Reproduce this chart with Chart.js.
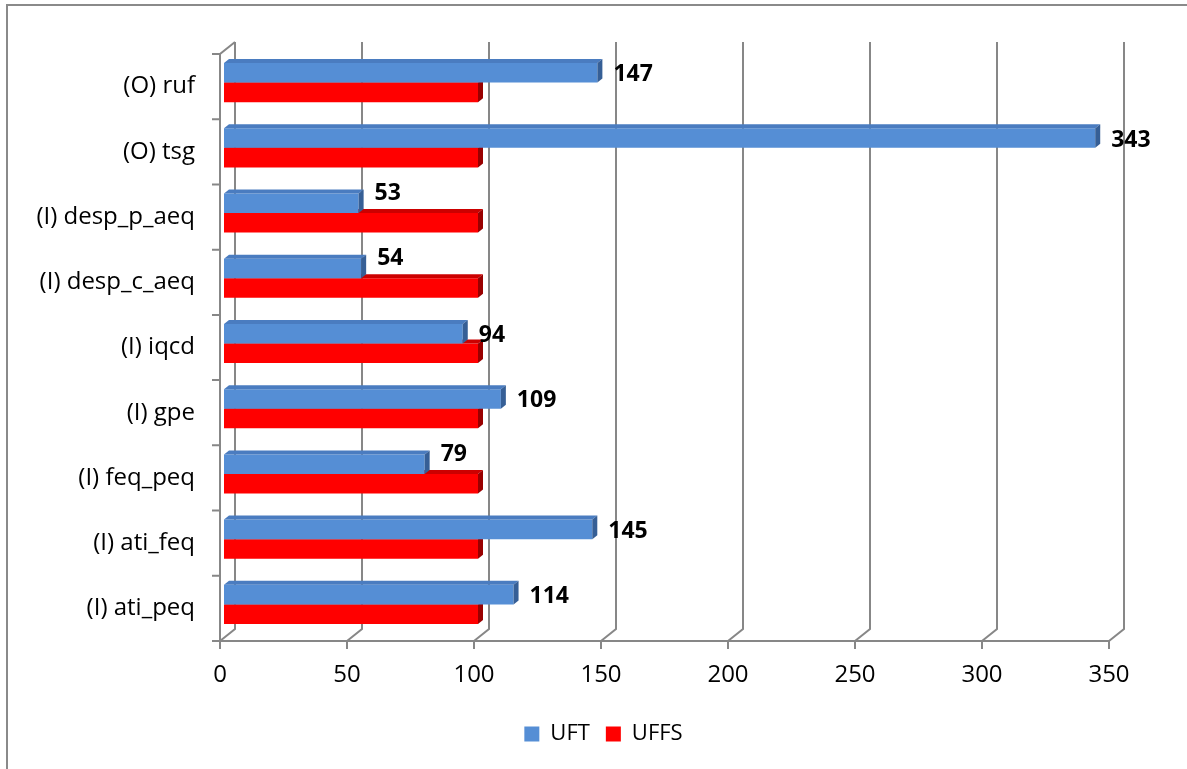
<!DOCTYPE html>
<html>
<head>
<meta charset="utf-8">
<script src="https://cdn.jsdelivr.net/npm/chart.js@4.4.1/dist/chart.umd.min.js"></script>
<style>
  html, body { margin: 0; padding: 0; background: #ffffff; }
  #wrap { width: 1187px; height: 769px; position: relative; }
</style>
</head>
<body>
<div id="wrap"><canvas id="chart" width="1187" height="769"></canvas></div>
<script>
// ---- data ----
const categories = ['(O) ruf', '(O) tsg', '(I) desp_p_aeq', '(I) desp_c_aeq', '(I) iqcd',
                    '(I) gpe', '(I) feq_peq', '(I) ati_feq', '(I) ati_peq'];
const uftValues  = [147, 343, 53, 54, 94, 109, 79, 145, 114];
const uffsValues = [100, 100, 100, 100, 100, 100, 100, 100, 100];
const seriesNames = ['UFT', 'UFFS'];
const xTickValues = [0, 50, 100, 150, 200, 250, 300, 350];

// ---- pseudo-3D geometry (offsets from the bar plane) ----
const FRONT = { dx: -4, dy: 4 };    // front edge of the floor / left wall
const BACK  = { dx: 11, dy: -8 };   // back wall
const BAR_DEPTH = { dx: 5, dy: -4 };
const GRID_COLOR = '#878787';

const faceColors = [
  { top: '#4a7cc0', side: '#365f96' },   // UFT
  { top: '#cc0000', side: '#990000' }    // UFFS
];

const textFont = { family: "'Open Sans', sans-serif", size: 24 };

// frame, walls, floor lines, bar depth faces and value labels
const framePlugin = {
  id: 'frame3d',
  beforeDraw(chart) {
    const ctx = chart.ctx;
    ctx.save();
    ctx.fillStyle = '#ffffff';
    ctx.fillRect(0, 0, chart.width, chart.height);
    ctx.strokeStyle = '#8a8a8a';
    ctx.lineWidth = 2;
    ctx.beginPath();
    ctx.moveTo(7, chart.height);
    ctx.lineTo(7, 5);
    ctx.lineTo(chart.width, 5);
    ctx.stroke();
    ctx.restore();
  },
  beforeDatasetsDraw(chart) {
    const ctx = chart.ctx, xs = chart.scales.x, ys = chart.scales.y, a = chart.chartArea;
    const baseY = a.bottom + FRONT.dy, topFront = a.top + FRONT.dy;
    const backTop = a.top + BACK.dy, backBottom = a.bottom + BACK.dy;
    const x0 = xs.getPixelForValue(xs.min);
    const x1 = xs.getPixelForValue(xs.max);
    ctx.save();
    ctx.strokeStyle = GRID_COLOR;
    ctx.lineWidth = 2;
    ctx.beginPath();
    xs.ticks.forEach(t => {
      const p = xs.getPixelForValue(t.value);
      const fx = p + FRONT.dx, bx = p + BACK.dx;
      ctx.moveTo(bx, backTop);
      ctx.lineTo(bx, backBottom);
      ctx.lineTo(fx, baseY);
      ctx.moveTo(fx, baseY);
      ctx.lineTo(fx, baseY + 8);
    });
    // floor front edge
    ctx.moveTo(x0 + FRONT.dx - 8, baseY);
    ctx.lineTo(x1 + FRONT.dx, baseY);
    // left wall
    ctx.moveTo(x0 + FRONT.dx, baseY);
    ctx.lineTo(x0 + FRONT.dx, topFront);
    ctx.lineTo(x0 + BACK.dx, backTop);
    // category tick marks
    for (let i = 0; i <= categories.length; i++) {
      const y = ys.getPixelForValue(i - 0.5) + FRONT.dy;
      ctx.moveTo(x0 + FRONT.dx - 8, y);
      ctx.lineTo(x0 + FRONT.dx, y);
    }
    ctx.stroke();
    ctx.restore();
  },
  afterDatasetDraw(chart, args) {
    const ctx = chart.ctx;
    const colors = faceColors[args.index];
    const dx = BAR_DEPTH.dx, dy = BAR_DEPTH.dy;
    ctx.save();
    args.meta.data.forEach(bar => {
      const p = bar.getProps(['x', 'y', 'base', 'height'], true);
      const top = p.y - p.height / 2, bot = p.y + p.height / 2;
      ctx.fillStyle = colors.top;
      ctx.beginPath();
      ctx.moveTo(p.base, top);
      ctx.lineTo(p.x, top);
      ctx.lineTo(p.x + dx, top + dy);
      ctx.lineTo(p.base + dx, top + dy);
      ctx.closePath();
      ctx.fill();
      ctx.fillStyle = colors.side;
      ctx.beginPath();
      ctx.moveTo(p.x, top);
      ctx.lineTo(p.x + dx, top + dy);
      ctx.lineTo(p.x + dx, bot + dy);
      ctx.lineTo(p.x, bot);
      ctx.closePath();
      ctx.fill();
    });
    ctx.restore();
  },
  afterDatasetsDraw(chart) {
    const ctx = chart.ctx;
    const blue = chart.getDatasetMeta(0).data, red = chart.getDatasetMeta(1).data;
    ctx.save();
    ctx.font = "bold 23px 'Open Sans', sans-serif";
    ctx.fillStyle = '#000000';
    ctx.textAlign = 'left';
    ctx.textBaseline = 'middle';
    blue.forEach((bar, i) => {
      const txt = String(uftValues[i]);
      const w = ctx.measureText(txt).width;
      const tx = bar.x + BAR_DEPTH.dx + 11;
      let ty = bar.y + 2;
      const redEnd = red[i].x + BAR_DEPTH.dx;
      if (tx + w < redEnd) ty -= 12;   // lift labels sitting over the longer red bar
      ctx.fillText(txt, tx, ty);
    });
    ctx.restore();
  }
};

new Chart(document.getElementById('chart'), {
  type: 'bar',
  data: {
    labels: categories,
    datasets: [
      { label: seriesNames[0], data: uftValues, backgroundColor: '#558ed5', borderWidth: 0,
        categoryPercentage: 0.6, barPercentage: 1.0 },
      { label: seriesNames[1], data: uffsValues, backgroundColor: '#ff0000', borderWidth: 0,
        categoryPercentage: 0.6, barPercentage: 1.0 }
    ]
  },
  options: {
    indexAxis: 'y',
    responsive: false,
    animation: false,
    devicePixelRatio: 1,
    layout: { padding: { top: 50, left: 20, right: 0, bottom: 14 } },
    scales: {
      y: {
        grid: { display: false, drawTicks: false },
        border: { display: false },
        ticks: { font: textFont, color: '#000000', padding: 29, labelOffset: 4 },
        afterFit(scale) { scale.width = 204; }
      },
      // empty margin on the right of the plot
      yMargin: {
        type: 'category',
        position: 'right',
        grid: { display: false, drawTicks: false },
        border: { display: false },
        ticks: { display: false },
        afterFit(scale) { scale.width = 74; }
      },
      x: {
        min: 0, max: 350,
        grid: { display: false, drawTicks: false },
        border: { display: false },
        afterBuildTicks(scale) { scale.ticks = xTickValues.map(v => ({ value: v })); },
        ticks: { font: textFont, color: '#000000', padding: 24, labelOffset: -4 },
        afterFit(scale) { scale.height = 70; }
      }
    },
    plugins: {
      legend: {
        position: 'bottom',
        labels: { boxWidth: 15, boxHeight: 15, font: { family: "'Open Sans', sans-serif", size: 22 },
                  color: '#000000', padding: 16 }
      },
      tooltip: { enabled: false }
    }
  },
  plugins: [framePlugin]
});
</script>
</body>
</html>
